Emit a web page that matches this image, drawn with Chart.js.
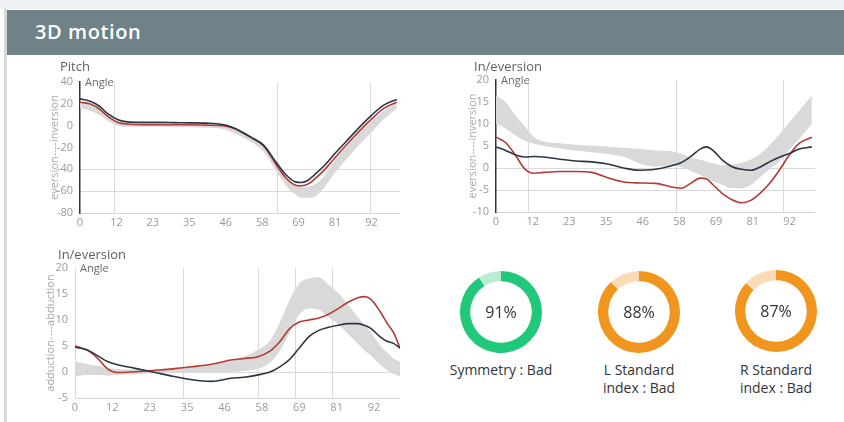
<!DOCTYPE html>
<html>
<head>
<meta charset="utf-8">
<script src="https://cdn.jsdelivr.net/npm/chart.js@4.4.1/dist/chart.umd.min.js"></script>
<style>
  html, body { margin: 0; padding: 0; background: #fff; }
  body { width: 844px; height: 422px; position: relative; overflow: hidden; font-family: "Open Sans", sans-serif; }
  .topstrip { position: absolute; left: 0; top: 0; width: 844px; height: 9px; background: #eef0f1; }
  .leftedge { position: absolute; left: 4px; top: 9px; width: 3px; height: 413px; background: #d3d7d9; }
  .header { position: absolute; left: 7px; top: 10px; width: 837px; height: 45px; background: #6e8288; }
  .header h1 { margin: 0; position: absolute; left: 28px; top: 0; line-height: 44px; font-size: 20px; letter-spacing: 0.6px; font-weight: 600; color: #fff; }
  canvas { position: absolute; }
  .cap { position: absolute; width: 150px; text-align: center; font-size: 14px; color: #333; line-height: 18px; }
</style>
</head>
<body>
<div class="topstrip"></div>
<div class="leftedge"></div>
<div class="header"><h1>3D motion</h1></div>

<canvas id="pitch" width="356" height="175" style="left:44px;top:60px"></canvas>
<canvas id="inv" width="353" height="174" style="left:462px;top:60px"></canvas>
<canvas id="add" width="360" height="172" style="left:40px;top:248px"></canvas>

<canvas id="d0" width="82" height="82" style="left:460px;top:271px"></canvas>
<canvas id="d1" width="82" height="82" style="left:598px;top:271px"></canvas>
<canvas id="d2" width="82" height="82" style="left:735px;top:270px"></canvas>
<div class="cap" style="left:426px;top:361px">Symmetry : Bad</div>
<div class="cap" style="left:564px;top:361px">L Standard<br>index : Bad</div>
<div class="cap" style="left:701px;top:361px">R Standard<br>index : Bad</div>

<script>
// ---- gait-cycle tick labels (every 11.5 % of the cycle) ----
const xTickLabels = [0, 12, 23, 35, 46, 58, 69, 81, 92];
const xTickStep = 11.5;

// ---- Pitch ----
const pitchFrames   = [0, 3, 6, 9, 12, 15, 20, 25, 30, 35, 40, 45, 48, 51, 54, 58, 62, 65, 68, 70, 72, 74, 77, 80, 84, 88, 92, 96, 100];
const pitchDark     = [24.6, 22.5, 18, 10.5, 5.5, 3.5, 3, 3, 2.8, 2.6, 2.3, 1, -1.5, -5.5, -10.5, -18, -34, -45, -51.5, -52, -50, -45, -37, -27, -14.5, -2, 9.5, 19, 24];
const pitchRed      = [21.5, 20, 15.5, 8, 3, 1.5, 1, 1, 1, 0.8, 0.5, 0, -2, -6, -11, -18.5, -36, -48, -54.5, -55, -53.5, -49, -41, -31, -18, -5.5, 6, 16, 21.5];
const pitchBandHigh = [22, 20.5, 16, 9, 4, 2, 1.5, 1.5, 1.5, 1, 1, 0, -2.5, -6, -11, -18, -33, -46, -54, -56, -56, -54, -46, -33, -20, -7, 4, 14, 20];
const pitchBandLow  = [16, 14, 10, 4, 0, -1, -1, -1, -1.5, -1.5, -2, -3, -6, -10, -15, -24, -42, -55, -63, -66, -66, -65, -57, -45, -31, -18, -6, 6, 16];
const pitchEvents   = [10.6, 62.3, 91.4];
const pitchRefLines = [-40, -60];

// ---- In/eversion ----
const invFrames   = [0, 3, 6, 9, 12, 15, 20, 25, 30, 35, 40, 45, 50, 55, 58, 61, 64, 66, 68, 71, 74, 77, 80, 83, 86, 89, 92, 95, 99];
const invDark     = [4.8, 4, 3, 2.5, 2.6, 2.5, 2, 1.6, 1.4, 0.9, 0, -0.5, -0.3, 0.5, 1.2, 2.6, 4.3, 4.8, 4, 1.8, 0.3, -0.3, -0.5, 0.3, 1.5, 2.5, 3.3, 4.3, 4.8];
const invRed      = [7, 5.8, 3, -0.2, -1.2, -1, -0.8, -0.8, -1, -2.2, -3.2, -3.4, -3.5, -4.3, -4.6, -3.5, -2.3, -2.5, -3.8, -5.8, -7.2, -7.9, -7.3, -5.6, -3.3, -0.3, 3, 5.6, 7];
const invBandHigh = [16.5, 15, 12, 9.5, 7, 6, 5.6, 5.3, 5.1, 4.9, 4.6, 4.3, 4, 3.8, 3.2, 2.4, 1.9, 1.5, 1.1, 0.6, 0.8, 1.2, 2, 3.3, 5.4, 7.8, 10.4, 13, 16.5];
const invBandLow  = [10, 9, 7.5, 6.2, 5.5, 5, 4.5, 4, 3.6, 3.2, 2.6, 1, 0.3, 0.5, 0.2, -0.6, -1.6, -2.3, -3, -3.8, -4.6, -4.6, -3.8, -2, -0.1, 1.6, 4.2, 6.6, 10];
const invEvents   = [10, 56.3, 90.1];
const invRefLines = [0, -5];

// ---- Ad/abduction ----
const addFrames   = [0, 4, 7, 10, 13, 17, 20, 24, 30, 36, 42, 48, 52, 56, 60, 63, 66, 69, 72, 75, 78, 81, 84, 87, 89, 91, 94, 96, 98, 100];
const addDark     = [4.8, 4.2, 3.1, 2, 1.4, 0.9, 0.5, 0, -0.8, -1.5, -1.8, -1.2, -1, -0.6, 0, 1, 2.4, 4.6, 6.8, 8, 8.6, 9, 9.3, 9.3, 9, 8.4, 6.7, 5.9, 5.5, 4.6];
const addRed      = [5, 4.1, 2.6, 0.6, -0.1, 0, 0.1, 0.3, 0.6, 1, 1.5, 2.3, 2.6, 2.9, 4, 5.8, 8.3, 9.6, 10, 10.4, 11.1, 12.2, 13.4, 14.3, 14.5, 14, 11.5, 9.4, 7.6, 4.6];
const addBandHigh = [2, 1.5, 1.2, 0.8, 0.6, 0.5, 0.5, 0.5, 0.6, 1, 1.4, 2.2, 3, 4.2, 6, 9.5, 13.8, 17, 18, 18.2, 16.8, 15.2, 13, 10.6, 9.2, 7.7, 5, 3.8, 2.6, 2];
const addBandLow  = [-0.8, -0.6, -0.6, -0.7, -0.6, -0.5, -0.4, -0.3, -0.2, 0, 0, 0, 0.2, 0.6, 1.8, 4, 7.5, 11, 12.2, 12, 10.5, 9.2, 7.3, 5.5, 4.2, 3.2, 1.3, 0.4, -0.4, -0.8];
const addEvents   = [33.3, 56.2, 67.6, 79];
const addRefLines = [0];

// ---- score rings ----
const donutValues = [91, 88, 87];
const donutColors = [['#22c879', '#b9ecd3'], ['#f0961e', '#f9dcb6'], ['#f0961e', '#f9dcb6']];

const DARK = '#2c3545';
const RED = '#b23b35';
const BAND = '#d9d9d9';
const GRID = '#dadada';
const FONT = '"Open Sans", sans-serif';

Chart.defaults.font.family = FONT;
Chart.defaults.color = '#999';

const pts = (xs, ys) => xs.map((x, i) => ({ x, y: ys[i] }));

// vertical gait-event markers
const eventLines = {
  id: 'eventLines',
  beforeDatasetsDraw(chart, args, opts) {
    const { ctx, chartArea: a, scales: { x } } = chart;
    ctx.save();
    ctx.strokeStyle = GRID;
    ctx.lineWidth = 1;
    for (const v of opts.values) {
      const px = Math.round(x.getPixelForValue(v)) + 0.5;
      ctx.beginPath();
      ctx.moveTo(px, a.top);
      ctx.lineTo(px, a.bottom);
      ctx.stroke();
    }
    ctx.restore();
  }
};

// panel heading and the unit label at the top of the plot
const panelText = {
  id: 'panelText',
  afterDraw(chart, args, o) {
    const { ctx, chartArea: a } = chart;
    ctx.save();
    ctx.textAlign = 'left';
    ctx.textBaseline = 'middle';
    ctx.font = '13px ' + FONT;
    ctx.fillStyle = '#5f5f5f';
    ctx.fillText(o.title, o.titleX, o.titleY);
    ctx.font = '11px ' + FONT;
    ctx.fillStyle = '#6a6a6a';
    ctx.fillText(o.unit, a.left + 5, a.top + 1);
    ctx.restore();
  }
};

function lineChart(id, s) {
  const common = { pointRadius: 0, cubicInterpolationMode: 'monotone' };
  return new Chart(document.getElementById(id), {
    type: 'line',
    data: {
      datasets: [
        { ...common, data: pts(s.frames, s.bandHigh), borderColor: 'transparent', borderWidth: 0, fill: false, order: 3 },
        { ...common, data: pts(s.frames, s.bandLow), borderColor: 'transparent', borderWidth: 0, backgroundColor: BAND, fill: '-1', order: 2 },
        { ...common, data: pts(s.frames, s.red), borderColor: RED, borderWidth: 1.6, fill: false, order: 1 },
        { ...common, data: pts(s.frames, s.dark), borderColor: DARK, borderWidth: 1.6, fill: false, order: 0 }
      ]
    },
    options: {
      responsive: false,
      animation: false,
      devicePixelRatio: 1,
      layout: { padding: { top: s.padTop, left: 0, right: 0, bottom: 0 } },
      plugins: {
        legend: { display: false },
        tooltip: { enabled: false },
        eventLines: { values: s.events },
        panelText: { title: s.title, titleX: s.titleX, titleY: 7, unit: 'Angle' }
      },
      scales: {
        x: {
          type: 'linear',
          min: 0,
          max: s.xMax,
          afterBuildTicks: sc => { sc.ticks = xTickLabels.map((t, i) => ({ value: i * xTickStep })); },
          afterFit: sc => { sc.height = 22; },
          ticks: { autoSkip: false, maxRotation: 0, padding: 3, font: { size: 11 }, color: '#9a9a9a',
                   callback: (v, i) => xTickLabels[i] },
          grid: { display: false, drawTicks: false },
          border: { display: true, color: '#d3d3d3', width: 1 }
        },
        y: {
          min: s.yMin,
          max: s.yMax,
          afterFit: sc => { sc.width = s.yWidth; },
          ticks: { stepSize: s.yStep, padding: 7, font: { size: 11 }, color: '#9a9a9a' },
          grid: { drawTicks: false, color: c => s.refLines.includes(c.tick.value) ? GRID : 'rgba(0,0,0,0)' },
          border: { display: true, color: s.axisColor, width: s.axisWidth },
          title: { display: true, text: s.yTitle, color: '#a8a8a8', font: { size: 11 }, padding: { top: 4, bottom: 0 } }
        }
      }
    },
    plugins: [eventLines, panelText]
  });
}

lineChart('pitch', {
  frames: pitchFrames, dark: pitchDark, red: pitchRed, bandHigh: pitchBandHigh, bandLow: pitchBandLow,
  events: pitchEvents, refLines: pitchRefLines, title: 'Pitch', titleX: 16, padTop: 22,
  xMax: 101, yMin: -80, yMax: 40, yStep: 20, yWidth: 36,
  yTitle: 'eversion----inversion', axisColor: '#333', axisWidth: 1.5
});

lineChart('inv', {
  frames: invFrames, dark: invDark, red: invRed, bandHigh: invBandHigh, bandLow: invBandLow,
  events: invEvents, refLines: invRefLines, title: 'In/eversion', titleX: 12, padTop: 20,
  xMax: 100, yMin: -10, yMax: 20, yStep: 5, yWidth: 34,
  yTitle: 'eversion----inversion', axisColor: '#333', axisWidth: 1.5
});

lineChart('add', {
  frames: addFrames, dark: addDark, red: addRed, bandHigh: addBandHigh, bandLow: addBandLow,
  events: addEvents, refLines: addRefLines, title: 'In/eversion', titleX: 18, padTop: 20,
  xMax: 100, yMin: -5, yMax: 20, yStep: 5, yWidth: 35,
  yTitle: 'adduction----abduction', axisColor: '#d8d8d8', axisWidth: 1
});

// percentage in the middle of each ring
const ringLabel = {
  id: 'ringLabel',
  afterDraw(chart) {
    const { ctx, chartArea: a } = chart;
    const v = chart.data.datasets[0].data[0];
    ctx.save();
    ctx.font = '16px ' + FONT;
    ctx.fillStyle = '#333';
    ctx.textAlign = 'center';
    ctx.textBaseline = 'middle';
    ctx.fillText(v + '%', (a.left + a.right) / 2, (a.top + a.bottom) / 2 + 1);
    ctx.restore();
  }
};

donutValues.forEach((v, i) => {
  new Chart(document.getElementById('d' + i), {
    type: 'doughnut',
    data: { datasets: [{ data: [v, 100 - v], backgroundColor: donutColors[i], borderWidth: 0 }] },
    options: {
      responsive: false,
      animation: false,
      devicePixelRatio: 1,
      cutout: '75%',
      plugins: { legend: { display: false }, tooltip: { enabled: false } }
    },
    plugins: [ringLabel]
  });
});
</script>
</body>
</html>
